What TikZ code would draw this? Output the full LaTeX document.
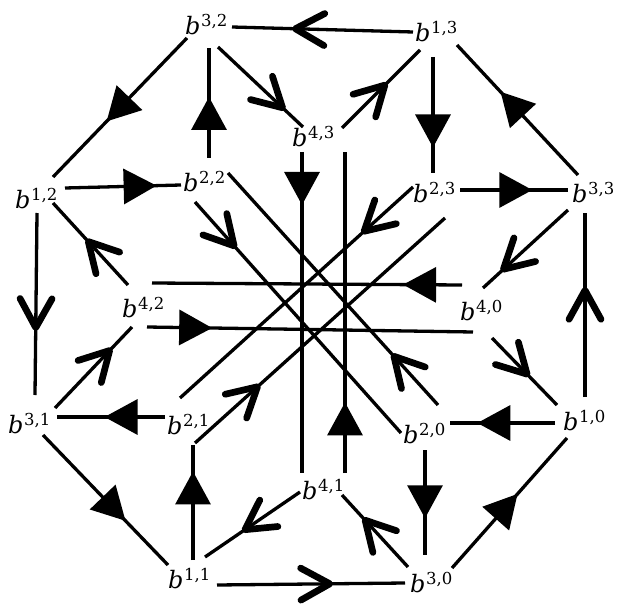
\documentclass[tikz,border=0pt]{standalone}
\usepackage{fontspec}
\newfontfamily\labfont{DejaVu Serif}
\usetikzlibrary{arrows.meta,decorations.markings,calc}
\newcommand\blab[2]{{\labfont\fontsize{24}{28}\selectfont\itshape b}\kern0.5pt\raisebox{8pt}{\labfont\fontsize{16.5}{20}\selectfont #1,#2}}
\tikzset{
  lbl/.style={anchor=base west, inner sep=0pt},
  edge/.style={line width=3.3pt},
  tri/.style={edge, postaction={decorate}, decoration={markings,
      mark=at position #1 with {\arrow{Triangle[length=33pt,width=35pt]}}}},
  chev/.style={edge, postaction={decorate}, decoration={markings,
      mark=at position #1 with {\draw[line width=6.7pt, line cap=round, line join=round]
        (-29pt,16pt) -- (0pt,0pt) -- (-29pt,-16pt);}}},
}
\begin{document}
\begin{tikzpicture}[x=1pt,y=-1pt]
\fill[white] (0,0) rectangle (618,604);
\useasboundingbox (0,0) rectangle (618,604);
% nodes
\node[lbl] (b32) at (185,35)  {\blab{3}{2}};
\node[lbl] (b13) at (415,42)  {\blab{1}{3}};
\node[lbl] (b43) at (292,147) {\blab{4}{3}};
\node[lbl] (b12) at (15,208)  {\blab{1}{2}};
\node[lbl] (b22) at (183,192) {\blab{2}{2}};
\node[lbl] (b23) at (413,202) {\blab{2}{3}};
\node[lbl] (b33) at (572,203) {\blab{3}{3}};
\node[lbl] (b42) at (122,317) {\blab{4}{2}};
\node[lbl] (b40) at (460,320) {\blab{4}{0}};
\node[lbl] (b31) at (8,433)   {\blab{3}{1}};
\node[lbl] (b21) at (167,434) {\blab{2}{1}};
\node[lbl] (b20) at (403,443) {\blab{2}{0}};
\node[lbl] (b10) at (563,430) {\blab{1}{0}};
\node[lbl] (b41) at (302,499) {\blab{4}{1}};
\node[lbl] (b11) at (168,588) {\blab{1}{1}};
\node[lbl] (b30) at (410,592) {\blab{3}{0}};
% outer edges
\draw[chev=0.65] ($(b13.base west)+(-2,-10)$) -- ($(b32.base west)+(47,-8)$);
\draw[tri=0.60]  ($(b32.base west)+(2,3)$)    -- ($(b12.base west)+(38,-31)$);
\draw[tri=0.555] ($(b22.base west)+(26,-34)$) -- ($(b32.base west)+(24,13)$);
\draw[chev=0.76] ($(b32.base west)+(33,12)$)  -- ($(b43.base west)+(11,-20)$);
\draw[tri=0.79]  ($(b12.base west)+(50,-20)$) -- ($(b22.base west)+(-2,-7)$);
\draw[chev=0.63] ($(b12.base west)+(22,5)$)   -- ($(b31.base west)+(27,-38)$);
\draw[chev=0.53] ($(b42.base west)+(6,-32)$)  -- ($(b12.base west)+(38,-5)$);
\draw[chev=0.55] ($(b43.base west)+(50,-19)$) -- ($(b13.base west)+(5,8)$);
\draw[tri=0.78]  ($(b13.base west)+(18,15)$)  -- ($(b23.base west)+(20,-29)$);
\draw[tri=0.64]  ($(b33.base west)+(6,-28)$)  -- ($(b13.base west)+(42,3)$);
\draw[tri=0.67]  ($(b23.base west)+(47,-12)$) -- ($(b33.base west)+(-4,-13)$);
\draw[chev=0.76] ($(b33.base west)+(-4,7)$)   -- ($(b40.base west)+(23,-32)$);
\draw[chev=0.58] ($(b10.base west)+(22,-33)$) -- ($(b33.base west)+(13,10)$);
\draw[tri=0.74]  ($(b10.base west)+(-8,-7)$)  -- ($(b20.base west)+(47,-20)$);
\draw[chev=0.54] ($(b40.base west)+(32,18)$)  -- ($(b10.base west)+(-6,-25)$);
\draw[tri=0.57]  ($(b30.base west)+(42,-24)$) -- ($(b10.base west)+(4,8)$);
\draw[tri=0.65]  ($(b20.base west)+(22,7)$)   -- ($(b30.base west)+(15,-37)$);
\draw[chev=0.65] ($(b30.base west)+(-2,-25)$) -- ($(b41.base west)+(40,-4)$);
\draw[chev=0.60] ($(b11.base west)+(49,-3)$)  -- ($(b30.base west)+(-5,-9)$);
\draw[chev=0.58] ($(b41.base west)+(-2,-7)$)  -- ($(b11.base west)+(37,-31)$);
\draw[tri=0.77]  ($(b11.base west)+(25,-28)$) -- ($(b21.base west)+(26,11)$);
\draw[tri=0.66]  ($(b31.base west)+(35,2)$)   -- ($(b11.base west)+(0,-23)$);
\draw[tri=0.56]  ($(b21.base west)+(-2,-17)$) -- ($(b31.base west)+(49,-16)$);
\draw[chev=0.71] ($(b31.base west)+(47,-25)$) -- ($(b42.base west)+(10,10)$);
% inner edges
\draw[tri=0.20]  ($(b42.base west)+(25,10)$)  -- ($(b40.base west)+(13,12)$);
\draw[tri=0.19]  ($(b40.base west)+(2,-35)$)  -- ($(b42.base west)+(30,-34)$);
\draw[tri=0.165] ($(b43.base west)+(10,5)$)   -- ($(b41.base west)+(0,-26)$);
\draw[tri=0.22]  ($(b41.base west)+(43,-26)$) -- ($(b43.base west)+(53,5)$);
\draw[chev=0.19] ($(b22.base west)+(12,10)$)  -- ($(b20.base west)+(-2,-10)$);
\draw[chev=0.21] ($(b20.base west)+(35,-38)$) -- ($(b22.base west)+(45,-19)$);
\draw[chev=0.21] ($(b23.base west)+(0,-15)$)  -- ($(b21.base west)+(13,-36)$);
\draw[chev=0.25] ($(b21.base west)+(28,9)$)   -- ($(b23.base west)+(32,16)$);
\end{tikzpicture}
\end{document}
